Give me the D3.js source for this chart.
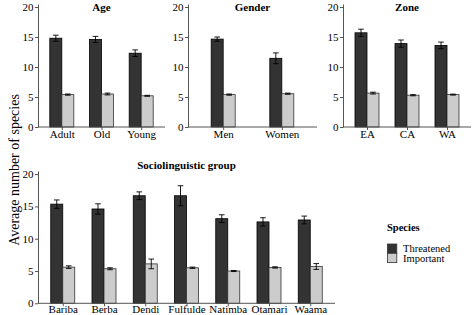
<!DOCTYPE html>
<html>
<head>
<meta charset="utf-8">
<script src="https://d3js.org/d3.v7.min.js"></script>
<style>
  body { margin: 0; background: #fff; }
  text { font-family: "Liberation Serif", "DejaVu Serif", serif; fill: #000; }
</style>
</head>
<body>
<script>
const w = 472
const h = 315
const speciesTypes = ["Threatened", "Important"]
const yTicks = [0, 5, 10, 15, 20]

// Age
const ageCats = ["Adult", "Old", "Young"]
const ageThreat = [14.8, 14.6, 12.3]
const ageThreatSe = [0.5, 0.5, 0.55]
const ageImp = [5.4, 5.5, 5.2]
const ageImpSe = [0.1, 0.15, 0.08]

// Gender
const genderCats = ["Men", "Women"]
const genderThreat = [14.65, 11.45]
const genderThreatSe = [0.35, 0.9]
const genderImp = [5.4, 5.55]
const genderImpSe = [0.1, 0.1]

// Zone
const zoneCats = ["EA", "CA", "WA"]
const zoneThreat = [15.7, 13.9, 13.6]
const zoneThreatSe = [0.6, 0.6, 0.55]
const zoneImp = [5.65, 5.3, 5.4]
const zoneImpSe = [0.15, 0.1, 0.08]

// Sociolinguistic group
const socioCats = ["Bariba", "Berba", "Dendi", "Fulfulde", "Natimba", "Otamari", "Waama"]
const socioThreat = [15.35, 14.6, 16.65, 16.65, 13.1, 12.6, 12.9]
const socioThreatSe = [0.65, 0.8, 0.6, 1.55, 0.6, 0.65, 0.6]
const socioImp = [5.6, 5.35, 6.1, 5.5, 5.0, 5.55, 5.7]
const socioImpSe = [0.2, 0.15, 0.75, 0.1, 0.08, 0.1, 0.45]

const fills = ["#333333", "#cccccc"]
const barW = 12

const panels = [
  { title: "Age", cats: ageCats, vals: [ageThreat, ageImp], se: [ageThreatSe, ageImpSe], x0: 38, x1: 165, yBase: 127, ppu: 6, titleY: 11, labBase: 11.2 },
  { title: "Gender", cats: genderCats, vals: [genderThreat, genderImp], se: [genderThreatSe, genderImpSe], x0: 188, x1: 317, yBase: 127, ppu: 6, titleY: 11, labBase: 11.2 },
  { title: "Zone", cats: zoneCats, vals: [zoneThreat, zoneImp], se: [zoneThreatSe, zoneImpSe], x0: 343, x1: 471, yBase: 127, ppu: 6, titleY: 11, labBase: 11.2 },
  { title: "Sociolinguistic group", cats: socioCats, vals: [socioThreat, socioImp], se: [socioThreatSe, socioImpSe], x0: 38, x1: 335, yBase: 303.3, ppu: 6.46, titleY: 169, labBase: 9.3 }
]

const svg = d3.select("body").append("svg")
  .attr("width", w)
  .attr("height", h)

panels.forEach(p => {
  const x = d3.scalePoint().domain(p.cats).range([p.x0, p.x1]).padding(0.6)
  const y = d3.scaleLinear().domain([0, 20.5]).range([p.yBase, p.yBase - 20.5 * p.ppu])
  const g = svg.append("g")

  // bars
  speciesTypes.forEach((s, si) => {
    const rows = p.cats.map((c, i) => ({ c: c, v: p.vals[si][i], e: p.se[si][i] }))
    const bx = d => x(d.c) + (si === 0 ? -barW : 0)
    g.selectAll(".bar" + si)
      .data(rows)
      .enter()
      .append("rect")
      .attr("x", bx)
      .attr("y", d => y(d.v))
      .attr("width", barW)
      .attr("height", d => y(0) - y(d.v))
      .attr("fill", fills[si])
      .attr("stroke", si === 0 ? "#000" : "#333")
      .attr("stroke-width", 0.8)
    // error bars
    const eb = g.selectAll(".err" + si)
      .data(rows)
      .enter()
      .append("g")
      .attr("stroke", "#000")
      .attr("stroke-width", 0.9)
    eb.append("line")
      .attr("x1", d => bx(d) + barW / 2).attr("x2", d => bx(d) + barW / 2)
      .attr("y1", d => y(d.v - d.e)).attr("y2", d => y(d.v + d.e))
    ;[-1, 1].forEach(k => {
      eb.append("line")
        .attr("x1", d => bx(d) + barW / 2 - 2.8).attr("x2", d => bx(d) + barW / 2 + 2.8)
        .attr("y1", d => y(d.v + k * d.e)).attr("y2", d => y(d.v + k * d.e))
    })
  })

  // axes
  const xa = g.append("g")
    .attr("transform", `translate(0,${y(0)})`)
    .call(d3.axisBottom(x).tickSize(3).tickSizeOuter(0))
  const ya = g.append("g")
    .attr("transform", `translate(${p.x0},0)`)
    .call(d3.axisLeft(y).tickValues(yTicks).tickSize(3).tickSizeOuter(0).tickPadding(1.5))
  ;[xa, ya].forEach(a => {
    a.select(".domain").attr("stroke", "#555").attr("stroke-width", 1)
    a.selectAll(".tick line").attr("stroke", "#555")
    a.selectAll("text")
      .style("font-family", '"Liberation Serif", serif')
      .style("font-size", "11px")
      .attr("fill", "#000")
  })
  xa.selectAll(".tick text").attr("y", p.labBase).attr("dy", null)
  xa.select(".domain").attr("d", `M${p.x0},0H${p.x1}`)

  g.append("text")
    .attr("x", (p.x0 + p.x1) / 2)
    .attr("y", p.titleY)
    .attr("text-anchor", "middle")
    .style("font-size", "11px")
    .style("font-weight", "bold")
    .text(p.title)
})

// y axis title
svg.append("text")
  .attr("transform", "translate(14,170) rotate(-90)")
  .attr("text-anchor", "middle")
  .attr("dy", "0.35em")
  .style("font-size", "14px")
  .text("Average number of species")

// legend
const legend = svg.append("g").attr("transform", "translate(387,231)")
legend.append("text")
  .attr("x", 0).attr("y", 0)
  .style("font-size", "10.5px")
  .style("font-weight", "bold")
  .text("Species")
speciesTypes.forEach((s, i) => {
  legend.append("rect")
    .attr("x", 0.5).attr("y", 13 + i * 9.3)
    .attr("width", 9.3).attr("height", 9.3)
    .attr("fill", fills[i])
    .attr("stroke", "#333")
    .attr("stroke-width", 0.8)
  legend.append("text")
    .attr("x", 16).attr("y", 21 + i * 9.8)
    .style("font-size", "10.5px")
    .text(s)
})
</script>
</body>
</html>
